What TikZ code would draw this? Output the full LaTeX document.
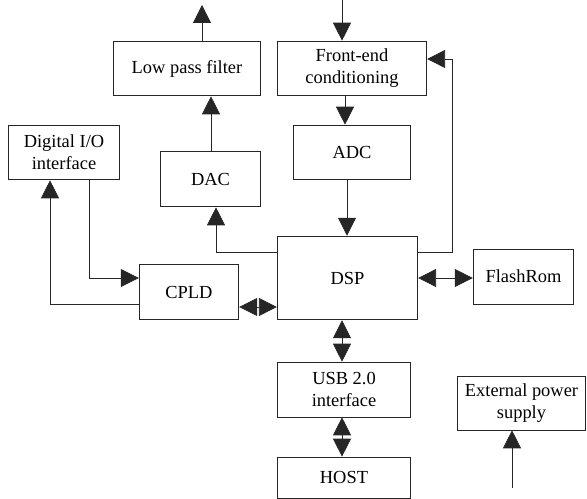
\documentclass[tikz,border=0pt]{standalone}
\usepackage{fontspec}
\setmainfont{Liberation Serif}
\usepackage{tikz}
\usetikzlibrary{arrows.meta}

\begin{document}
\begin{tikzpicture}[x=1bp, y=-1bp, line width=0.8pt, color=black!85,
    block/.style={draw, rectangle, inner sep=0pt, align=center, text=black,
      font=\fontsize{18.5}{22}\selectfont},
    tip/.style={-{Triangle[length=18bp, width=18bp]}},
    twotip/.style={{Triangle[length=18bp, width=18bp]}-{Triangle[length=18bp, width=18bp]}}]
    \useasboundingbox (0, 0) rectangle (587, 499);

    % draw blocks
    \node[block, minimum width=148, minimum height=55] (lpf) at (187, 68.5) {Low pass filter};
    \node[block, minimum width=150, minimum height=55] (fe) at (352, 68.5) {Front-end\\conditioning};
    \node[block, minimum width=112, minimum height=55] (dio) at (64, 152.5) {Digital I/O\\interface};
    \node[block, minimum width=101, minimum height=56] (dac) at (210.5, 179) {DAC};
    \node[block, minimum width=118, minimum height=55] (adc) at (352, 152.5) {ADC};
    \node[block, minimum width=141, minimum height=84] (dsp) at (347.5, 278) {DSP};
    \node[block, minimum width=100, minimum height=56] (cpld) at (189, 292) {CPLD};
    \node[block, minimum width=101, minimum height=55] (flash) at (523.5, 276.5) {FlashRom};
    \node[block, minimum width=134, minimum height=55] (usb) at (344, 389.5) {USB 2.0\\interface};
    \node[block, minimum width=134, minimum height=41] (host) at (344, 477.5) {HOST};
    \node[block, minimum width=129, minimum height=54] (power) at (521.5, 403) {External power\\supply};

    % free ends
    \coordinate (sigin) at (342, 0);
    \coordinate (sigout) at (202, 5);
    \coordinate (pwrin) at (512, 488);

    % draw signal path
    \draw[tip] (sigin) -- (sigin |- fe.north);
    \draw[tip] (fe.south -| 345, 0) -- (adc.north -| 345, 0);
    \draw[tip] (adc.south -| 347, 0) -- (dsp.north -| 347, 0);
    \draw[tip] (dac.north -| 211, 0) -- (lpf.south -| 211, 0);
    \draw[tip] (lpf.north -| sigout) -- (sigout);

    % draw control lines
    \draw[tip] (dsp.east |- 0, 252) -- (452, 252) -- (452, 59) -- (fe.east |- 0, 59);
    \draw[tip] (dsp.west |- 0, 252) -- (216, 252) -- (dac.south -| 216, 0);
    \draw[tip] (dio.south -| 89, 0) -- (89, 278) -- (cpld.west |- 0, 278);
    \draw[tip] (cpld.west |- 0, 304) -- (50, 304) -- (dio.south -| 50, 0);

    % draw buses
    \draw[twotip] (cpld.east |- 0, 307) -- (dsp.west |- 0, 307);
    \draw[twotip] (dsp.east |- 0, 278) -- (flash.west |- 0, 278);
    \draw[twotip] (dsp.south -| 342, 0) -- (usb.north -| 342, 0);
    \draw[twotip] (usb.south -| 342, 0) -- (host.north -| 342, 0);

    % draw power input
    \draw[tip] (pwrin) -- (pwrin |- power.south);

\end{tikzpicture}
\end{document}
